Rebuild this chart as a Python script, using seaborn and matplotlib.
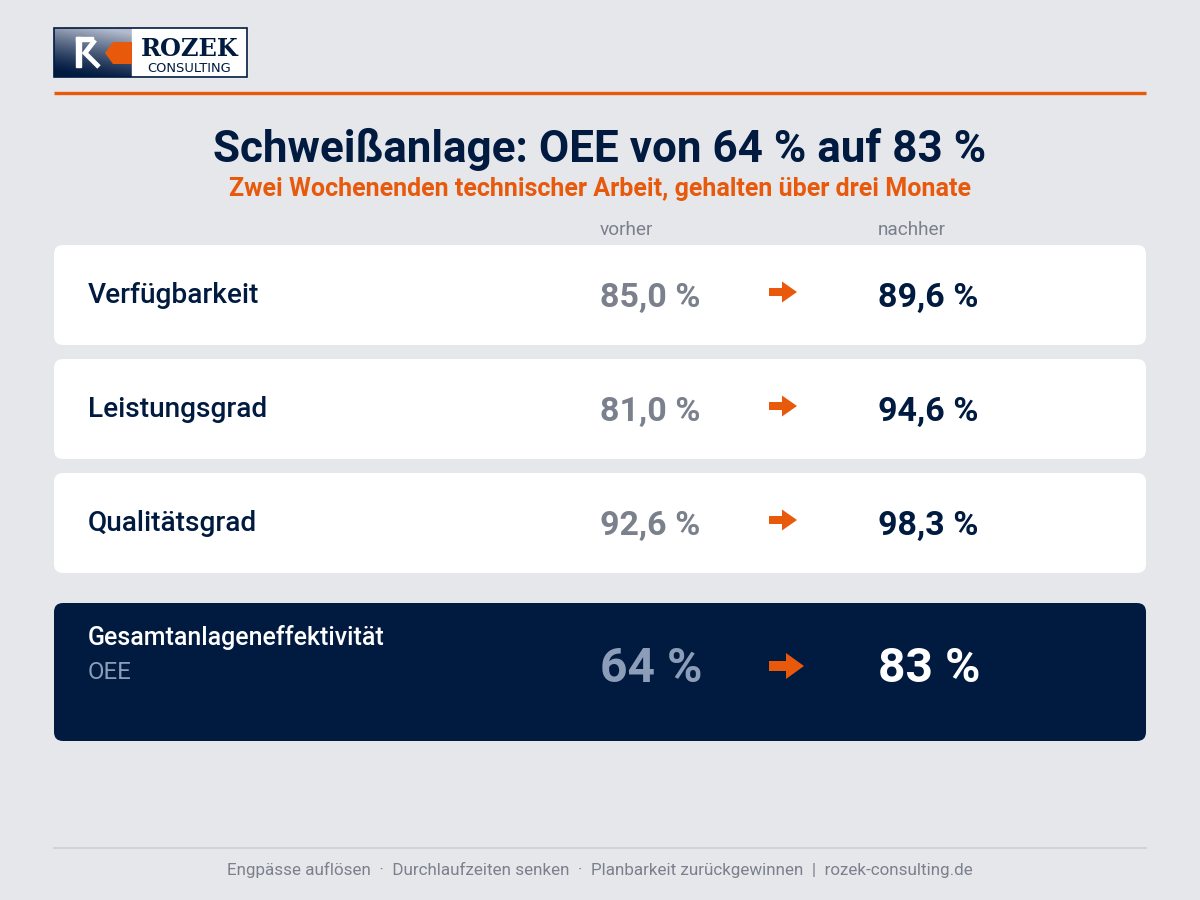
import numpy as np
import pandas as pd
import matplotlib
matplotlib.use("Agg")
import matplotlib.pyplot as plt
from matplotlib.patches import FancyBboxPatch, Polygon, Rectangle
import seaborn as sns

# Kennzahlen vorher / nachher
kpi_labels = ["Verfügbarkeit", "Leistungsgrad", "Qualitätsgrad"]
kpi_vorher = [85.0, 81.0, 92.6]
kpi_nachher = [89.6, 94.6, 98.3]
oee_label = "Gesamtanlageneffektivität"
oee_kurz = "OEE"
oee_vorher = 64
oee_nachher = 83
spalten = ["vorher", "nachher"]
anlage = "Schweißanlage"
untertitel = "Zwei Wochenenden technischer Arbeit, gehalten über drei Monate"
footer_punkte = ["Engpässe auflösen", "Durchlaufzeiten senken", "Planbarkeit zurückgewinnen"]
website = "rozek-consulting.de"

# Farben
BG = "#E5E7EB"
NAVY = "#001A40"
ORANGE = "#E8590C"
GRAU = "#7A808C"
BLAUGRAU = "#8C9DB8"
LINIE = "#D0D3D9"

sns.set_theme(style="white", rc={"figure.facecolor": BG, "axes.facecolor": BG})
plt.rcParams["font.family"] = ["Roboto", "DejaVu Sans"]

PT = 0.72  # px -> pt bei dpi 100


def fmt(v, nachkomma=1):
    s = f"{v:.{nachkomma}f}".replace(".", ",")
    return s + " %"


def pfeil(ax, x0, yc, schaft_l, schaft_h, spitze_l, spitze_h):
    pts = [(x0, yc - schaft_h / 2), (x0 + schaft_l, yc - schaft_h / 2),
           (x0 + schaft_l, yc - spitze_h / 2), (x0 + schaft_l + spitze_l, yc),
           (x0 + schaft_l, yc + spitze_h / 2), (x0 + schaft_l, yc + schaft_h / 2),
           (x0, yc + schaft_h / 2)]
    ax.add_patch(Polygon(pts, closed=True, color=ORANGE, lw=0, zorder=5))


fig = plt.figure(figsize=(12, 9), dpi=100)
ax = fig.add_axes([0, 0, 1, 1])
ax.set_xlim(0, 1200)
ax.set_ylim(900, 0)
ax.axis("off")

# --- Logo ---
lx0, lx1, ly0, ly1 = 54, 247, 28, 77
grad = np.linspace(0, 1, 64)
gx, gy = np.meshgrid(grad, grad)
g = np.clip(0.25 * gx + 0.95 * (1 - gy) - 0.1, 0, 1)
c_dark = np.array([0.0, 0.10, 0.25])
c_light = np.array([0.70, 0.73, 0.80])
img = c_dark + (c_light - c_dark) * g[..., None] ** 1.3
ax.imshow(img, extent=(lx0, 132, ly1, ly0), origin="upper", aspect="auto", zorder=2)
ax.add_patch(Rectangle((132, ly0), lx1 - 132, ly1 - ly0, color="white", zorder=2))
ax.add_patch(Rectangle((lx0, ly0), lx1 - lx0, ly1 - ly0, fill=False, ec=NAVY, lw=1.2, zorder=4))
# weisses R
ax.add_patch(Rectangle((76, 37), 5, 30, color="white", zorder=3))
ax.add_patch(Rectangle((76, 37), 17, 4, color="white", zorder=3))
ax.plot([95, 85, 99], [40, 53, 67], color="white", lw=3.5, solid_joinstyle="miter",
        solid_capstyle="butt", zorder=3)
# orange Winkel
ax.add_patch(Polygon([(113, 42), (132, 42), (132, 64), (113, 64), (105, 53)],
                     closed=True, color=ORANGE, lw=0, zorder=3))
ax.text(190, 56, "ROZEK", family=["DejaVu Serif"], fontweight="bold",
        fontsize=24 * PT, color=NAVY, ha="center", va="baseline", zorder=5)
ax.text(189, 71.5, "CONSULTING", family=["DejaVu Sans"], fontsize=13 * PT, color=NAVY,
        ha="center", va="baseline", zorder=5)

# orange Linie
ax.plot([54, 1146], [93, 93], color=ORANGE, lw=2.4, solid_capstyle="butt")

# --- Titel ---
titel = f"{anlage}: OEE von {oee_vorher} % auf {oee_nachher} %"
ax.text(600, 162, titel, fontsize=44 * PT, fontweight="bold", color=NAVY, ha="center", va="baseline")
ax.text(600, 196, untertitel, fontsize=25 * PT, fontweight="bold", color=ORANGE, ha="center", va="baseline")

# Spaltenköpfe
x_vorher, x_pfeil, x_nachher = 600, 769, 878
ax.text(x_vorher, 235, spalten[0], fontsize=19 * PT, color=GRAU, ha="left", va="baseline")
ax.text(x_nachher, 235, spalten[1], fontsize=19 * PT, color=GRAU, ha="left", va="baseline")

# --- Karten ---
df = pd.DataFrame({"label": kpi_labels, "vorher": kpi_vorher, "nachher": kpi_nachher})
card_top, card_h, card_gap = 245, 100, 14
for i, row in df.iterrows():
    y0 = card_top + i * (card_h + card_gap)
    ax.add_patch(FancyBboxPatch((54, y0), 1092, card_h, boxstyle="round,pad=0,rounding_size=9",
                                fc="white", ec="none", zorder=1))
    yb = y0 + 58
    ax.text(88, yb, row["label"], fontsize=28 * PT, fontweight="medium", color=NAVY, va="baseline")
    ax.text(x_vorher, yb + 4, fmt(row["vorher"]), fontsize=34 * PT, fontweight="bold", color=GRAU, va="baseline")
    ax.text(x_nachher, yb + 4, fmt(row["nachher"]), fontsize=34 * PT, fontweight="bold", color=NAVY, va="baseline")
    pfeil(ax, x_pfeil, y0 + 47, 13, 8, 15, 21)

# OEE-Karte
oy0, oh = 603, 138
ax.add_patch(FancyBboxPatch((54, oy0), 1092, oh, boxstyle="round,pad=0,rounding_size=9",
                            fc=NAVY, ec="none", zorder=1))
ax.text(88, 645, oee_label, fontsize=25 * PT, fontweight="medium", color="white", va="baseline")
ax.text(88, 679, oee_kurz, fontsize=24 * PT, color=BLAUGRAU, va="baseline")
ax.text(x_vorher, 682, fmt(oee_vorher, 0), fontsize=48 * PT, fontweight="bold", color=BLAUGRAU, va="baseline")
ax.text(x_nachher, 682, fmt(oee_nachher, 0), fontsize=48 * PT, fontweight="bold", color="white", va="baseline")
pfeil(ax, x_pfeil, 666, 17, 10, 18, 26)

# --- Footer ---
ax.plot([54, 1146], [848, 848], color=LINIE, lw=1.5)
footer = "  ·  ".join(footer_punkte) + "  |  " + website
ax.text(600, 875, footer, fontsize=17 * PT, color=GRAU, ha="center", va="baseline")

fig.savefig("out.png", dpi=100, facecolor=BG)
